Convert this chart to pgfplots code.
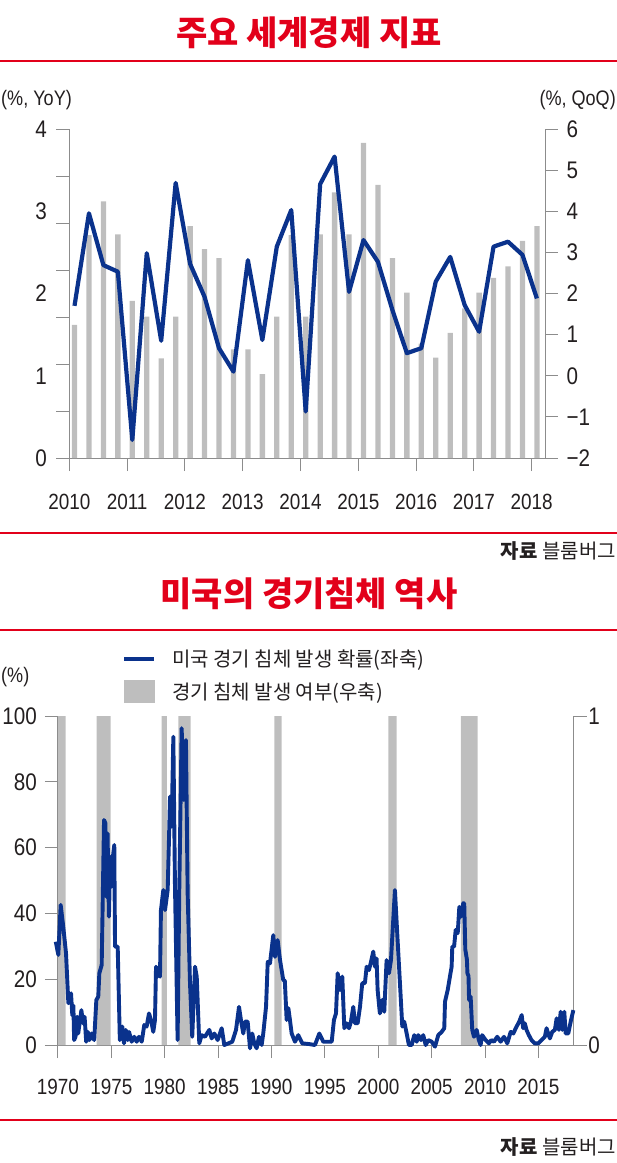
\documentclass[border=0pt]{standalone}
\usepackage{fontspec}
\usepackage{pgfplots}
\usepackage{pgfplotstable}
\pgfplotsset{compat=1.18}
\setmainfont{Liberation Sans}
\newfontfamily\kr{Noto Sans CJK KR}
\newfontfamily\num[FakeStretch=0.86]{Liberation Sans}

\definecolor{hred}{RGB}{226,0,26}
\definecolor{navy}{RGB}{10,50,140}
\definecolor{bargray}{RGB}{190,190,190}
\definecolor{axgray}{RGB}{140,140,140}
\definecolor{txt}{RGB}{35,31,32}

% quarter, YoY (left axis, bars), QoQ (right axis, line)
\pgfplotstableread{
x       yoy   qoq
2010.09 1.62  1.70
2010.34 2.71  3.95
2010.59 3.12  2.69
2010.84 2.72  2.53
2011.09 1.91 -1.56
2011.34 1.72  2.98
2011.59 1.21  0.85
2011.84 1.72  4.69
2012.09 2.82  2.72
2012.34 2.54  1.92
2012.59 2.43  0.67
2012.84 1.32  0.10
2013.09 1.32  2.81
2013.34 1.02  0.87
2013.59 1.72  3.14
2013.84 2.71  4.03
2014.09 1.72 -0.87
2014.34 2.72  4.66
2014.59 3.23  5.33
2014.84 2.72  2.04
2015.09 3.83  3.30
2015.34 3.32  2.77
2015.59 2.43  1.60
2015.84 2.01  0.55
2016.09 1.39  0.67
2016.34 1.22  2.29
2016.59 1.52  2.89
2016.84 1.82  1.72
2017.09 2.01  1.07
2017.34 2.19  3.14
2017.59 2.33  3.26
2017.84 2.64  2.94
2018.09 2.82  1.88
}\gdp

% recession probability, %
\pgfplotstableread{
x       p
1969.80 31.4
1970.04 27.4
1970.26 42.6
1970.50 36.0
1970.76 27.9
1970.98 12.7
1971.23 15.7
1971.35 9.0
1971.45 12.0
1971.52 1.5
1971.65 2.5
1971.80 8.6
1971.90 3.5
1972.05 7.0
1972.20 10.6
1972.35 6.6
1972.50 8.6
1972.65 1.0
1972.80 4.0
1972.95 1.5
1973.15 3.5
1973.40 1.5
1973.60 13.7
1973.78 14.7
1973.88 21.8
1974.10 24.3
1974.32 68.4
1974.45 67.4
1974.55 45.0
1974.65 64.3
1974.78 39.0
1974.90 57.2
1975.00 48.1
1975.15 57.2
1975.28 60.8
1975.35 29.9
1975.60 29.9
1975.80 1.5
1976.03 5.6
1976.19 0.5
1976.35 4.6
1976.54 1.5
1976.66 4.0
1976.91 1.0
1977.15 2.5
1977.38 1.0
1977.59 2.5
1977.85 1.0
1978.09 6.1
1978.31 5.6
1978.53 9.6
1978.72 7.6
1978.93 4.0
1979.09 7.6
1979.19 23.8
1979.35 21.3
1979.56 20.8
1979.65 41.0
1979.87 47.1
1980.03 41.0
1980.28 47.1
1980.40 62.3
1980.50 75.5
1980.65 66.4
1980.81 93.7
1980.96 49.1
1981.21 1.5
1981.37 48.1
1981.59 96.3
1981.78 74.5
1981.99 92.7
1982.15 46.1
1982.37 18.8
1982.58 2.5
1982.84 23.8
1983.00 20.8
1983.24 0.5
1983.46 3.0
1983.77 2.5
1984.18 4.6
1984.40 2.0
1984.65 3.5
1984.96 1.5
1985.34 5.1
1985.58 0.0
1985.96 0.5
1986.33 1.0
1986.68 4.6
1986.96 11.6
1987.14 7.6
1987.36 3.5
1987.52 7.1
1987.77 7.1
1987.99 -1.0
1988.20 3.5
1988.39 0.5
1988.61 -1.0
1988.83 2.5
1989.08 0.0
1989.23 3.5
1989.49 11.6
1989.65 25.3
1989.86 24.8
1990.17 33.4
1990.33 26.8
1990.58 31.9
1990.80 25.8
1991.10 19.8
1991.25 19.5
1991.42 7.6
1991.58 11.2
1991.73 7.6
1991.89 3.5
1992.20 1.0
1992.51 3.0
1992.88 0.5
1993.50 0.3
1994.07 0.0
1994.48 3.5
1994.85 1.0
1995.32 1.0
1995.64 1.0
1995.85 7.6
1996.04 9.6
1996.20 21.8
1996.41 16.7
1996.63 20.8
1996.82 5.1
1997.04 6.6
1997.26 5.1
1997.44 7.1
1997.66 11.6
1997.82 6.6
1998.07 6.6
1998.29 11.6
1998.50 18.8
1998.75 18.8
1998.91 23.8
1999.13 22.8
1999.32 25.3
1999.53 28.4
1999.69 23.8
1999.84 26.3
1999.94 16.7
2000.15 9.6
2000.37 13.7
2000.56 10.1
2000.78 25.8
2001.00 21.8
2001.19 25.8
2001.56 47.1
2001.81 31.9
2002.03 18.8
2002.25 5.6
2002.43 7.1
2002.66 3.5
2002.87 0.0
2003.13 0.0
2003.37 3.0
2003.60 1.0
2003.75 3.0
2004.00 1.5
2004.21 3.0
2004.44 0.0
2004.68 1.5
2005.00 1.0
2005.31 -0.5
2005.62 3.0
2005.94 4.0
2006.18 5.1
2006.25 13.2
2006.50 16.7
2006.71 20.8
2006.87 23.8
2006.93 29.9
2007.10 29.9
2007.25 35.0
2007.44 34.0
2007.59 42.0
2007.74 39.0
2007.96 43.1
2008.05 43.0
2008.15 29.0
2008.30 26.0
2008.35 21.8
2008.45 21.0
2008.50 13.7
2008.65 14.7
2008.80 4.6
2008.96 2.5
2009.21 4.6
2009.42 1.5
2009.58 0.0
2009.73 3.0
2010.05 1.5
2010.36 0.5
2010.58 1.5
2010.83 1.0
2011.14 2.5
2011.46 1.0
2011.77 2.5
2012.08 0.5
2012.40 4.0
2012.65 3.5
2012.87 5.1
2013.20 7.1
2013.43 9.1
2013.57 5.1
2013.72 6.6
2013.88 4.6
2014.10 3.0
2014.35 1.5
2014.66 0.5
2014.97 0.5
2015.28 1.5
2015.60 2.5
2015.76 5.1
2015.91 3.5
2016.07 2.0
2016.29 4.0
2016.54 4.6
2016.70 8.1
2016.92 4.6
2017.08 10.1
2017.23 4.6
2017.42 10.1
2017.55 3.5
2017.79 3.5
2018.05 7.6
2018.27 10.6
}\recprob

\pgfplotsset{
  chart/.style={
    scale only axis,
    axis line style={axgray, line width=0.9pt, -},
    tick style={axgray, line width=0.9pt},
    tick align=outside,
    major tick length=13pt,
    minor tick num=0,
    xticklabel style={font=\num\fontsize{22}{22}\selectfont, text=txt},
    yticklabel style={font=\num\fontsize{24}{24}\selectfont, text=txt},
  },
}

\begin{document}
\begin{tikzpicture}
\path[use as bounding box] (0pt,0pt) rectangle (617pt,-1163pt);

% ---- chart 1 ----
\node[text=hred, font=\kr\bfseries\fontsize{34}{34}\selectfont] at (309pt,-33pt) {주요 세계경제 지표};
\draw[hred, line width=2pt] (0pt,-61pt) -- (617pt,-61pt);
\node[anchor=west, inner sep=1pt, text=txt, font=\num\fontsize{21}{21}\selectfont] at (0pt,-100pt) {(\%, YoY)};
\node[anchor=east, inner sep=1pt, text=txt, font=\num\fontsize{21}{21}\selectfont] at (617pt,-100pt) {(\%, QoQ)};

\begin{axis}[chart,
  width=475.7pt, height=329pt,
  at={(69.3pt,-458pt)}, anchor=south west,
  xmin=2010, xmax=2018.23, ymin=0, ymax=4,
  axis x line*=bottom, axis y line*=left,
  xtick={2010,2011,2012,2013,2014,2015,2016,2017,2018},
  xticklabels={2010,2011,2012,2013,2014,2015,2016,2017,2018},
  xticklabel style={yshift=-20pt},
  ytick={0,0.5714,1.1429,1.7143,2.2857,2.8571,3.4286,4},
  yticklabels={},
  extra y ticks={0,1,2,3,4},
  extra y tick labels={0,1,2,3,4},
  extra y tick style={major tick length=0pt, yticklabel style={xshift=-19pt}},
]
\addplot[ybar, bar width=5.3pt, fill=bargray, draw=none] table[x=x, y=yoy] {\gdp};
\end{axis}

\begin{axis}[chart,
  width=475.7pt, height=329pt,
  at={(69.3pt,-458pt)}, anchor=south west,
  xmin=2010, xmax=2018.23, ymin=-2, ymax=6,
  axis x line=none, axis y line*=right,
  ytick={-2,-1,0,1,2,3,4,5,6},
  yticklabels={−2,−1,0,1,2,3,4,5,6},
  yticklabel style={xshift=5pt},
]
\addplot[navy, line width=4.2pt, line join=round] table[x=x, y=qoq] {\gdp};
\end{axis}

\draw[hred, line width=2pt] (0pt,-532.7pt) -- (617pt,-532.7pt);
\node[anchor=east, inner sep=1pt, text=txt, font=\kr\fontsize{20}{20}\selectfont] at (617pt,-551pt) {{\bfseries 자료} 블룸버그};

% ---- chart 2 ----
\node[text=hred, font=\kr\bfseries\fontsize{34}{34}\selectfont] at (309pt,-594pt) {미국의 경기침체 역사};
\draw[hred, line width=2pt] (0pt,-630pt) -- (617pt,-630pt);
\node[anchor=west, inner sep=1pt, text=txt, font=\num\fontsize{21}{21}\selectfont] at (0pt,-677pt) {(\%)};

\begin{axis}[chart,
  width=515.9pt, height=329pt,
  at={(57.9pt,-1045pt)}, anchor=south west,
  xmin=1970, xmax=2018.31, ymin=0, ymax=1,
  axis x line*=bottom, axis y line*=right,
  xtick={1970,1975,1980,1985,1990,1995,2000,2005,2010,2015},
  xticklabels={1970,1975,1980,1985,1990,1995,2000,2005,2010,2015},
  xticklabel style={yshift=-18pt},
  ytick={0,1}, yticklabels={0,1},
  yticklabel style={xshift=-2pt},
]
% recession indicator (1 = in recession)
\addplot[const plot, fill=bargray, draw=none] coordinates {
  (1969.98,1) (1970.73,0) (1973.63,1) (1974.94,0) (1979.72,1) (1980.21,0)
  (1981.27,1) (1982.43,0) (1990.26,1) (1990.95,0) (2000.94,1) (2001.72,0)
  (2007.74,1) (2009.31,0)} \closedcycle;
\end{axis}

\begin{axis}[chart,
  width=515.9pt, height=329pt,
  at={(57.9pt,-1045pt)}, anchor=south west,
  xmin=1970, xmax=2018.31, ymin=0, ymax=100,
  axis x line=none, axis y line*=left,
  ytick={0,20,40,60,80,100},
  yticklabels={0,20,40,60,80,100},
  yticklabel style={xshift=-4.5pt},
  clip=false,
  legend cell align=left,
  legend style={at={(0.1242,1.2005)}, anchor=north west, draw=none, fill=none,
    inner sep=0pt, row sep=12pt, column sep=16pt,
    nodes={inner sep=0pt, text=txt},
    font=\kr\fontsize{20}{22}\selectfont},
]
\addplot[navy, line width=3.9pt, line join=round,
  legend image code/.code={\draw[navy, line width=3.9pt] (0pt,0pt) -- (30pt,0pt);}]
  table[x=x, y=p] {\recprob};
\addlegendentry{미국 경기 침체 발생 확률(좌축)}
\addlegendimage{legend image code/.code={\fill[bargray] (0pt,-11pt) rectangle (30pt,11pt);}}
\addlegendentry{경기 침체 발생 여부(우축)}
\end{axis}

\draw[hred, line width=2pt] (0pt,-1120pt) -- (617pt,-1120pt);
\node[anchor=east, inner sep=1pt, text=txt, font=\kr\fontsize{20}{20}\selectfont] at (617pt,-1147pt) {{\bfseries 자료} 블룸버그};
\end{tikzpicture}
\end{document}
